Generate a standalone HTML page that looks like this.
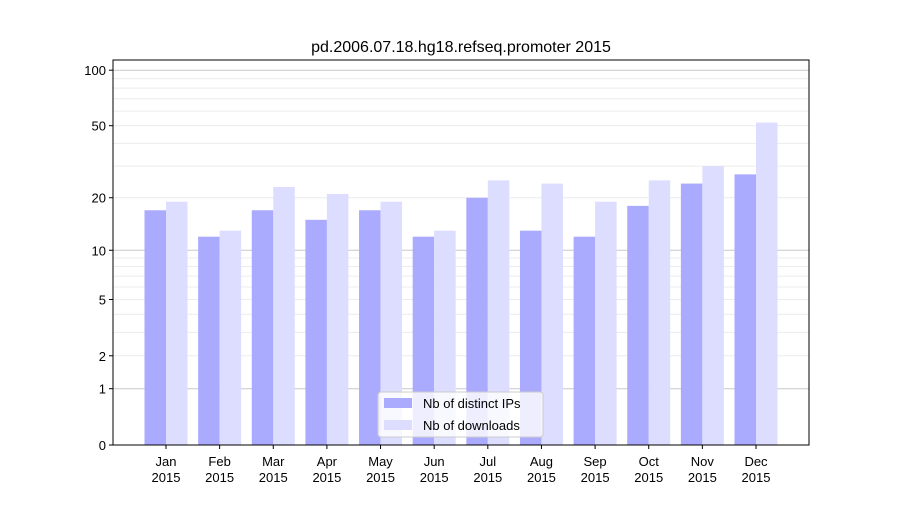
<!DOCTYPE html>
<html><head><meta charset="utf-8"><style>body{margin:0;background:#fff}svg{font-family:"Liberation Sans","DejaVu Sans",sans-serif}</style></head>
<body>
<svg id="chart" width="900" height="500"></svg>
<script>
const months=["Jan","Feb","Mar","Apr","May","Jun","Jul","Aug","Sep","Oct","Nov","Dec"];
const ipsValues=[17,12,17,15,17,12,20,13,12,18,24,27];
const downloadValues=[19,13,23,21,19,13,25,24,19,25,30,52];
const yTickValues=[0,1,2,5,10,20,50,100];
const NS="http://www.w3.org/2000/svg";
const svg=document.getElementById('chart');
const L=113,R=809,T=60,B=445;
const yMax=113.5;
function y(v){return B-(B-T)*Math.log10(1+v)/Math.log10(1+yMax);}
const step=(R-L)/13.0;
function xc(i){return 166+i*(756-166)/11;}
function mk(tag,attrs,parent){const e=document.createElementNS(NS,tag);for(const k in attrs)e.setAttribute(k,attrs[k]);(parent||svg).appendChild(e);return e;}
// grid
const grid=[];
for(let d=1;d<=100;d*=10)for(let m=1;m<10;m++){const v=d*m;if(v<=yMax)grid.push(v);}
grid.forEach(v=>{const major=(v===1||v===10||v===100);const g=mk('line',{x1:L,x2:R,y1:y(v),y2:y(v),stroke:major?'#c8c8c8':'#ececec','stroke-width':1});

});
const bw=21.5;
months.forEach((m,i)=>{
 const b1=mk('rect',{x:xc(i)-bw,y:y(ipsValues[i]),width:bw,height:B-y(ipsValues[i]),fill:'#aaaaff'});
 
 
 const b2=mk('rect',{x:xc(i),y:y(downloadValues[i]),width:bw,height:B-y(downloadValues[i]),fill:'#ddddff'});
 
 
 mk('line',{x1:xc(i),x2:xc(i),y1:B,y2:B+4,stroke:'#000'});
 const t=mk('text',{x:xc(i),y:B+21,'text-anchor':'middle','font-size':13});
 t.textContent=m;
 
 
 const t2=mk('text',{x:xc(i),y:B+37,'text-anchor':'middle','font-size':13});
 t2.textContent='2015';
 
 
});
yTickValues.forEach(v=>{
 mk('line',{x1:L-4,x2:L,y1:y(v),y2:y(v),stroke:'#000'});
 const t=mk('text',{x:L-7,y:y(v)+5,'text-anchor':'end','font-size':13});
 t.textContent=v;
 
 
});
const frame=mk('rect',{x:L,y:T,width:R-L,height:B-T,fill:'none',stroke:'#000','stroke-width':1});


const title=mk('text',{x:461,y:52,'text-anchor':'middle','font-size':16});
title.textContent='pd.2006.07.18.hg18.refseq.promoter 2015';


const lg=mk('g',{});


mk('rect',{x:378,y:392,width:165,height:45,rx:3,fill:'rgba(255,255,255,0.8)',stroke:'#ccc'},lg);
mk('rect',{x:384,y:398,width:28,height:10,fill:'#aaaaff'},lg);
mk('rect',{x:384,y:420,width:28,height:10,fill:'#ddddff'},lg);
const l1=mk('text',{x:423,y:408,'font-size':13},lg);l1.textContent='Nb of distinct IPs';


const l2=mk('text',{x:423,y:430,'font-size':13},lg);l2.textContent='Nb of downloads';


</script>
</body></html>
